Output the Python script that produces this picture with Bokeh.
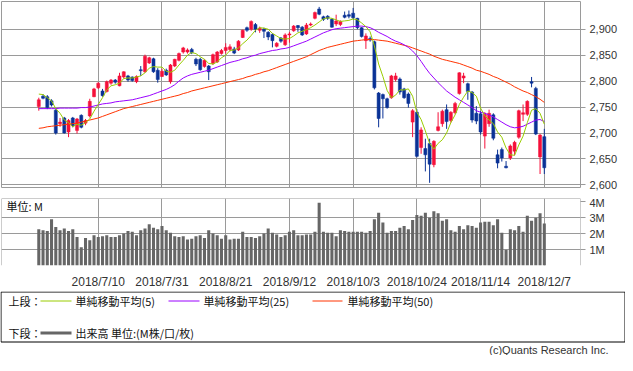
from bokeh.plotting import figure
from bokeh.layouts import column
from bokeh.models import (ColumnDataSource, FixedTicker, NumeralTickFormatter,
                          PrintfTickFormatter, Range1d, Span, Label)
from bokeh.embed import file_html
from bokeh.resources import INLINE

# ---------------- data ----------------
tick_pos = [14, 29, 44, 59, 74, 89, 104, 119]
tick_labels = ["2018/7/10", "2018/7/31", "2018/8/21", "2018/9/12",
               "2018/10/3", "2018/10/24", "2018/11/14", "2018/12/7"]

open_ = [2751, 2771, 2770, 2762, 2744, 2718, 2729, 2702, 2729, 2705,
         2734, 2719, 2733, 2770, 2787, 2781, 2780, 2796, 2802, 2791,
         2808, 2810, 2808, 2799, 2822, 2818, 2835, 2843, 2821, 2809,
         2821, 2799, 2829, 2840, 2856, 2856, 2861, 2842, 2842, 2828,
         2829, 2834, 2837, 2853, 2859, 2861, 2862, 2860, 2884, 2903,
         2900, 2909, 2898, 2900, 2894, 2890, 2867, 2883, 2870, 2889,
         2897, 2907, 2904, 2891, 2908, 2921, 2939, 2924, 2925, 2919,
         2910, 2909, 2927, 2928, 2931, 2921, 2903, 2878, 2882, 2876,
         2777, 2774, 2766, 2768, 2803, 2804, 2785, 2775, 2721, 2740,
         2672, 2670, 2680, 2639, 2705, 2718, 2745, 2724, 2739, 2776,
         2806, 2795, 2779, 2738, 2737, 2694, 2718, 2735, 2658, 2668,
         2636, 2652, 2665, 2692, 2736, 2736, 2799, 2786, 2654, 2693]
high = [2768, 2775, 2773, 2765, 2746, 2729, 2731, 2727, 2731, 2729,
        2736, 2727, 2766, 2787, 2798, 2785, 2801, 2804, 2804, 2816,
        2819, 2812, 2809, 2811, 2829, 2851, 2847, 2845, 2825, 2824,
        2824, 2833, 2843, 2855, 2866, 2863, 2864, 2845, 2845, 2842,
        2831, 2853, 2858, 2862, 2873, 2871, 2866, 2879, 2899, 2905,
        2917, 2912, 2905, 2903, 2896, 2892, 2875, 2885, 2892, 2895,
        2908, 2908, 2906, 2912, 2913, 2934, 2943, 2926, 2927, 2921,
        2928, 2917, 2934, 2936, 2941, 2922, 2904, 2892, 2886, 2878,
        2779, 2776, 2768, 2812, 2816, 2807, 2787, 2778, 2746, 2746,
        2711, 2689, 2689, 2686, 2740, 2745, 2755, 2742, 2760, 2817,
        2816, 2797, 2781, 2752, 2742, 2740, 2745, 2738, 2668, 2672,
        2646, 2678, 2685, 2745, 2755, 2763, 2808, 2789, 2698, 2708]
low = [2743, 2765, 2746, 2751, 2697, 2712, 2699, 2692, 2711, 2699,
       2709, 2715, 2730, 2769, 2785, 2770, 2778, 2793, 2795, 2790,
       2805, 2799, 2799, 2796, 2810, 2816, 2833, 2816, 2797, 2808,
       2810, 2795, 2827, 2838, 2853, 2853, 2852, 2829, 2820, 2826,
       2802, 2831, 2835, 2851, 2853, 2857, 2852, 2858, 2883, 2895,
       2897, 2894, 2893, 2883, 2879, 2865, 2865, 2874, 2868, 2874,
       2895, 2895, 2887, 2889, 2906, 2919, 2927, 2916, 2918, 2903,
       2906, 2906, 2921, 2921, 2919, 2900, 2884, 2862, 2876, 2784,
       2711, 2728, 2747, 2766, 2799, 2774, 2766, 2749, 2692, 2653,
       2660, 2626, 2604, 2634, 2703, 2712, 2708, 2720, 2736, 2774,
       2796, 2764, 2720, 2717, 2697, 2670, 2712, 2686, 2632, 2645,
       2632, 2648, 2657, 2689, 2723, 2733, 2788, 2696, 2621, 2621]
close = [2764, 2767, 2749, 2754, 2700, 2721, 2700, 2724, 2714, 2727,
         2711, 2724, 2761, 2785, 2796, 2772, 2799, 2802, 2798, 2810,
         2818, 2802, 2801, 2809, 2820, 2848, 2845, 2818, 2803, 2819,
         2812, 2831, 2842, 2853, 2864, 2860, 2855, 2833, 2822, 2840,
         2818, 2851, 2856, 2859, 2865, 2866, 2854, 2877, 2898, 2898,
         2915, 2900, 2902, 2896, 2885, 2878, 2873, 2877, 2889, 2891,
         2906, 2903, 2889, 2908, 2910, 2932, 2929, 2919, 2921, 2904,
         2916, 2915, 2923, 2925, 2922, 2903, 2886, 2887, 2879, 2787,
         2728, 2766, 2749, 2810, 2810, 2779, 2768, 2757, 2743, 2655,
         2706, 2658, 2640, 2684, 2712, 2742, 2722, 2740, 2757, 2816,
         2810, 2780, 2725, 2723, 2702, 2736, 2738, 2690, 2642, 2652,
         2633, 2675, 2682, 2743, 2739, 2761, 2796, 2698, 2696, 2633]

ma5 = [2775, 2774, 2768, 2762, 2747, 2738, 2725, 2720, 2712, 2717,
       2715, 2720, 2727, 2742, 2755, 2768, 2783, 2791, 2793, 2796,
       2805, 2806, 2806, 2808, 2810, 2816, 2825, 2828, 2827, 2827,
       2819, 2817, 2821, 2831, 2840, 2850, 2855, 2853, 2847, 2842,
       2834, 2833, 2837, 2845, 2850, 2859, 2860, 2864, 2872, 2879,
       2888, 2898, 2903, 2902, 2900, 2892, 2887, 2882, 2881, 2882,
       2887, 2893, 2896, 2899, 2903, 2908, 2914, 2920, 2922, 2921,
       2918, 2915, 2916, 2917, 2920, 2918, 2912, 2905, 2895, 2868,
       2833, 2809, 2782, 2768, 2773, 2783, 2783, 2785, 2771, 2740,
       2726, 2704, 2680, 2669, 2680, 2687, 2700, 2720, 2735, 2755,
       2769, 2781, 2778, 2771, 2748, 2733, 2725, 2718, 2702, 2692,
       2671, 2658, 2657, 2677, 2694, 2720, 2744, 2747, 2738, 2717]
ma25 = [2747, 2747, 2747, 2747, 2747, 2748, 2748, 2748, 2748, 2748,
        2749, 2749, 2750, 2752, 2754, 2756, 2757, 2758, 2760, 2761,
        2762, 2763, 2764, 2766, 2768, 2770, 2772, 2775, 2778, 2781,
        2784, 2788, 2793, 2800, 2806, 2810, 2813, 2815, 2817, 2819,
        2821, 2824, 2827, 2830, 2833, 2836, 2838, 2840, 2843, 2845,
        2848, 2850, 2853, 2855, 2857, 2859, 2860, 2862, 2863, 2865,
        2868, 2871, 2874, 2877, 2881, 2885, 2889, 2893, 2896, 2899,
        2901, 2902, 2903, 2904, 2905, 2906, 2906, 2905, 2903, 2899,
        2894, 2890, 2886, 2881, 2877, 2874, 2870, 2865, 2858, 2849,
        2838, 2826, 2815, 2806, 2797, 2789, 2781, 2775, 2769, 2764,
        2759, 2754, 2749, 2743, 2740, 2738, 2735, 2731, 2726, 2721,
        2716, 2712, 2710, 2711, 2713, 2717, 2721, 2725, 2726, 2722]
ma50 = [2709, 2710, 2712, 2713, 2714, 2715, 2716, 2717, 2718, 2719,
        2721, 2723, 2725, 2727, 2729, 2732, 2735, 2738, 2741, 2744,
        2747, 2749, 2751, 2753, 2755, 2757, 2759, 2761, 2763, 2765,
        2767, 2769, 2771, 2773, 2776, 2778, 2781, 2783, 2785, 2787,
        2789, 2791, 2793, 2795, 2797, 2799, 2801, 2803, 2805, 2808,
        2810, 2813, 2815, 2818, 2820, 2823, 2826, 2829, 2832, 2835,
        2838, 2841, 2844, 2847, 2851, 2855, 2859, 2862, 2865, 2867,
        2869, 2871, 2873, 2875, 2877, 2878, 2879, 2880, 2880, 2880,
        2879, 2878, 2877, 2875, 2873, 2871, 2869, 2867, 2864, 2861,
        2858, 2855, 2852, 2848, 2845, 2842, 2840, 2838, 2836, 2834,
        2831, 2828, 2825, 2821, 2819, 2816, 2813, 2809, 2806, 2802,
        2798, 2794, 2789, 2785, 2781, 2778, 2774, 2770, 2765, 2759]

volume = [2.27, 2.21, 2.16, 2.90, 2.42, 2.21, 2.32, 2.16, 2.27, 1.79,
          1.15, 1.73, 1.58, 1.89, 1.79, 1.84, 1.89, 1.79, 1.79, 1.89,
          2.00, 2.16, 2.11, 1.89, 2.21, 2.32, 2.58, 2.37, 2.27, 2.48,
          2.21, 2.05, 1.84, 1.79, 1.84, 1.63, 1.68, 1.84, 1.89, 1.73,
          2.21, 2.00, 1.89, 1.68, 1.89, 1.63, 1.68, 1.68, 2.11, 1.79,
          1.79, 1.73, 1.84, 2.00, 2.32, 2.05, 1.95, 1.79, 1.89, 2.11,
          2.21, 1.89, 1.89, 1.95, 1.95, 2.11, 3.93, 2.11, 2.05, 2.05,
          1.84, 2.21, 2.16, 2.11, 2.11, 2.11, 2.11, 2.05, 2.16, 2.90,
          3.30, 2.69, 2.05, 2.16, 2.16, 2.37, 2.48, 2.27, 2.85, 3.17,
          3.12, 3.30, 3.00, 3.40, 3.27, 2.80, 2.90, 2.21, 2.11, 2.48,
          2.27, 2.53, 2.48, 2.37, 2.69, 2.75, 2.75, 2.53, 2.90, 2.05,
          0.99, 2.27, 2.21, 2.48, 2.11, 3.12, 2.80, 3.00, 3.27, 2.64]

price_ticks = [2600, 2650, 2700, 2750, 2800, 2850, 2900]
vol_ticks = [1, 2, 3, 4]

# ---------------- styling ----------------
UP = "#f5103a"
DOWN = "#0a3296"
C_MA5 = "#99cc00"
C_MA25 = "#9a00ff"
C_MA50 = "#ff3300"
GRID = "#9a9a9a"
TXT = "#333333"
TICK_FONT = "Liberation Sans"
JP_FONT = "Noto Sans CJK JP"

n = len(close)
xs = list(range(n))
colors = [UP if c >= o else DOWN for o, c in zip(open_, close)]
src = ColumnDataSource(dict(
    x=xs, o=open_, h=high, l=low, c=close,
    top=[max(o, c) for o, c in zip(open_, close)],
    bot=[min(o, c) for o, c in zip(open_, close)],
    color=colors, vol=volume, ma5=ma5, ma25=ma25, ma50=ma50))

X0, X1 = -8.78, 127.52
xr = Range1d(X0, X1)
W = 625
RB = 45


def style_right_axis(ax):
    ax.axis_line_color = None
    ax.major_tick_line_color = GRID
    ax.major_tick_out = 5
    ax.major_tick_in = 0
    ax.minor_tick_line_color = None
    ax.major_label_text_font = TICK_FONT
    ax.major_label_text_font_size = "11px"
    ax.major_label_text_color = TXT
    ax.major_label_standoff = 4


# ---------------- price panel ----------------
p = figure(width=W, height=196, x_range=xr, y_range=Range1d(2595, 2953.4),
           output_backend="svg", toolbar_location=None,
           x_axis_location=None, y_axis_location="right",
           min_border_left=1, min_border_right=RB, min_border_top=1,
           min_border_bottom=9)
p.outline_line_color = GRID
p.outline_line_width = 1
p.yaxis.ticker = FixedTicker(ticks=price_ticks)
p.yaxis.formatter = NumeralTickFormatter(format="0,0")
style_right_axis(p.yaxis[0])
p.xgrid.ticker = FixedTicker(ticks=tick_pos)
for g in (p.xgrid[0], p.ygrid[0]):
    g.grid_line_color = GRID
    g.grid_line_width = 1

p.segment(x0="x", y0="h", x1="x", y1="l", color="color", line_width=1, source=src)
p.vbar(x="x", top="top", bottom="bot", width=0.72, fill_color="color",
       line_color="color", line_width=0.5, source=src)
p.line("x", "ma50", color=C_MA50, line_width=1, source=src)
p.line("x", "ma25", color=C_MA25, line_width=1, source=src)
p.line("x", "ma5", color=C_MA5, line_width=1, source=src)

# ---------------- volume panel ----------------
v = figure(width=W, height=95, x_range=xr, y_range=Range1d(0, 4.2),
           output_backend="svg", toolbar_location=None,
           x_axis_location="below", y_axis_location="right",
           min_border_left=1, min_border_right=RB, min_border_top=2,
           min_border_bottom=15)
v.outline_line_color = None
v.yaxis.ticker = FixedTicker(ticks=vol_ticks)
v.yaxis.formatter = PrintfTickFormatter(format="%dM")
style_right_axis(v.yaxis[0])
v.xaxis.ticker = FixedTicker(ticks=tick_pos)
v.xaxis.major_label_overrides = {t: s for t, s in zip(tick_pos, tick_labels)}
v.xaxis.axis_line_color = None
v.xaxis.major_tick_line_color = None
v.xaxis.minor_tick_line_color = None
v.xaxis.major_label_text_font = TICK_FONT
v.xaxis.major_label_text_font_size = "12px"
v.xaxis.major_label_text_color = TXT
v.xaxis.major_label_standoff = 3
v.xgrid.ticker = FixedTicker(ticks=tick_pos)
v.ygrid.ticker = FixedTicker(ticks=[1, 2, 3])
for g in (v.xgrid[0], v.ygrid[0]):
    g.grid_line_color = GRID
    g.grid_line_width = 1
for loc, dim in ((X0, "height"), (X1, "height"), (4.2, "width")):
    v.add_layout(Span(location=loc, dimension=dim, line_color=GRID, line_width=1))

v.vbar(x="x", top="vol", bottom=0, width=0.72, fill_color="#666666",
       line_color=None, source=src)
v.add_layout(Label(x=X0 + 1.2, y=3.76, text="単位: M", text_font=JP_FONT,
                   text_font_size="11px", text_color="#111111",
                   text_baseline="middle"))

# ---------------- legend / footer ----------------
H = 64
lg = figure(width=W, height=H, x_range=Range1d(0, W), y_range=Range1d(0, H),
            output_backend="svg", toolbar_location=None,
            x_axis_location=None, y_axis_location=None,
            min_border=0)
lg.frame_align = False
lg.outline_line_color = None
lg.xgrid.visible = False
lg.ygrid.visible = False
lg.quad(left=0.5, right=W - 0.5, bottom=13.5, top=H - 0.5,
        fill_color=None, line_color="#000000", line_width=1)

r1 = H - 9.5
r2 = H - 41.5


def lab(x, y, t, color="#111111"):
    lg.add_layout(Label(x=x, y=y, text=t, text_font=JP_FONT, text_font_size="11px",
                        text_color=color, text_baseline="middle"))


lab(8, r1, "上段：")
lg.line([40, 71], [r1, r1], color=C_MA5, line_width=1)
lab(75, r1, "単純移動平均(5)")
lg.line([168, 199], [r1, r1], color=C_MA25, line_width=1)
lab(203, r1, "単純移動平均(25)")
lg.line([312, 342], [r1, r1], color=C_MA50, line_width=1)
lab(347, r1, "単純移動平均(50)")
lab(8, r2, "下段：")
lg.line([40, 71], [r2, r2], color="#666666", line_width=3)
lab(75, r2, "出来高 単位:(M株/口/枚)")
lg.add_layout(Label(x=608, y=5.5, text="(c)Quants Research Inc.", text_font=TICK_FONT,
                    text_font_size="11px", text_color=TXT, text_align="right",
                    text_baseline="middle"))

layout = column(p, v, lg)
open("out.html", "w").write(file_html(layout, INLINE))
